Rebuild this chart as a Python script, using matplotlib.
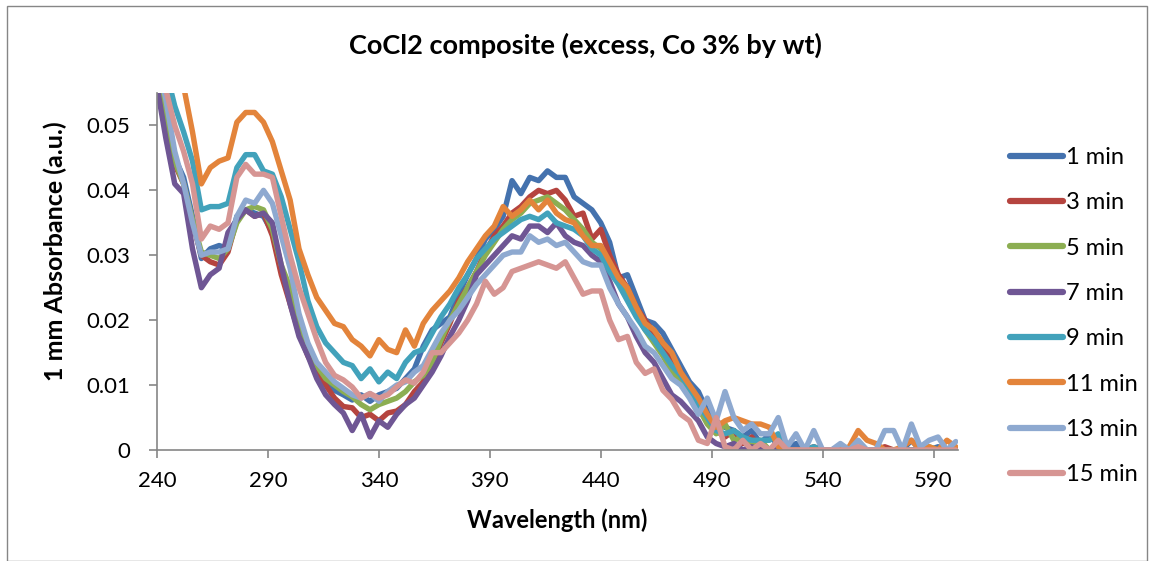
import numpy as np
import matplotlib
matplotlib.use("Agg")
import matplotlib.pyplot as plt
from matplotlib.patches import Rectangle

plt.rcParams['font.family'] = ['Lato', 'DejaVu Sans']

# wavelengths (nm), 4 nm steps
wavelength = list(range(240, 601, 4))

labels = ["1 min", "3 min", "5 min", "7 min", "9 min", "11 min", "13 min", "15 min"]
colors = ['#4472AE', '#B5443F', '#8CAE52', '#6F5694', '#42A2BB', '#E3843B', '#8EA9D0', '#D69593']

# absorbance values in milli-absorbance units (x 1e-3)
m1 = [58, 52, 45, 42, 36, 29.5, 31, 31.5, 31, 36, 37, 36.5, 36, 33.5, 28, 23, 19, 15.5, 13, 11,
      9.2, 8.5, 7.7, 8.5, 7.5, 8.5, 9, 9.5, 11, 12.5, 16, 18.5, 19.5, 20.5, 24, 27, 29.5, 32.5, 34, 36,
      41.5, 39.5, 42, 41.5, 43, 42, 42, 39, 38, 37, 35, 32, 26.5, 27, 23.5, 20, 19.5, 18, 15.5, 13,
      10.5, 9, 6, 4.5, 3.5, 3, 2, 3, 1, 2.5, 0.5, 0, 1, 0, 0, 0, 0, 0.5, 0, 0,
      0, 0, 0, 0, 0, 1.5, 0, 0, 0.5, 0, 0]
m3 = [58, 50, 44, 41, 35, 30, 29, 28.5, 30.5, 35.5, 37, 36, 36.5, 33, 27, 22.5, 18, 14.5, 12, 10,
      8, 6.7, 6.5, 5, 5.5, 4.5, 5.7, 6, 7, 9, 10.5, 13, 16.5, 19.5, 23, 25, 27.5, 30.5, 33, 34.5,
      36.5, 37.5, 39, 40, 39.5, 40, 38.5, 36, 36.5, 32.5, 34, 30, 27, 25, 22, 20, 18, 16, 14, 12,
      9.5, 7.5, 5, 3, 2, 3, 1, 2, 0.5, 0, 1, 0, 0, 0, 0.5, 0, 0, 0, 0, 0,
      0, 0, 0.5, 0, 0, 0, 0, 0, 0, 0, 0]
m5 = [58, 50, 44.5, 41, 35.5, 30.5, 30, 29.5, 31, 35, 37, 37.5, 37, 34, 28.5, 25, 19.5, 16, 13, 11,
      10, 9, 8.2, 7, 6.2, 7, 7.5, 8, 9, 10.5, 11.5, 13.5, 17, 20, 22.5, 25, 27.5, 30, 32, 34,
      35.5, 36.5, 38, 38.5, 39, 38, 37, 35.5, 34, 32, 31, 28.5, 26, 24, 21, 18.5, 16.5, 14.5, 12, 10.5,
      8.5, 6.5, 4, 2.5, 4, 1.5, 2, 0.5, 1.5, 0, 0.5, 0, 0, 0, 0, 0, 0, 0.5, 0, 0,
      0, 0, 0, 0, 0, 0, 0, 0.5, 0, 0, 0]
m7 = [56, 48, 41, 39.5, 31, 25, 27, 28, 33.5, 35.5, 37, 36, 36.5, 35, 28.5, 22.5, 17.5, 14.5, 11, 8.5,
      7, 5.7, 3, 5.5, 2, 4.5, 3.5, 5.5, 7, 8, 10, 12, 14.5, 17.5, 20, 23, 27, 28.5, 30, 31.5,
      33, 32.5, 34.5, 34.5, 33.5, 35, 33, 32, 31.5, 30, 29, 26, 22.5, 20.5, 17.5, 15, 13.5, 11, 8.5, 7.5,
      6, 4.5, 2, 1, 0.5, 1, 0, 0.5, 0, 0, 0, 0, 0, 0, 0, 0, 0, 0, 0, 0,
      0, 0, 0, 0, 0, 0, 0, 0, 0, 0, 0]
m9 = [62, 58.5, 53, 49, 44.5, 37, 37.5, 37.5, 38, 43.5, 45.5, 45.5, 43, 42.5, 39, 34, 29, 23, 19, 16.5,
      15, 13.5, 13, 11, 12.5, 10.5, 12, 11, 13.5, 15, 15.5, 18, 20.5, 22.5, 25, 27, 29.5, 31, 32.5, 33.5,
      34.5, 35.5, 36, 35.5, 36.5, 35, 34.5, 34, 33, 31, 30, 27.5, 25.5, 23, 20.5, 18.5, 17, 15, 13, 11.5,
      9.5, 7, 5, 3, 2.5, 3, 2, 1.5, 1.5, 1.5, 2.5, 0, 0, 0, 0.5, 0, 0, 0, 0, 0,
      0, 0, 0, 0, 0, 0, 0, 0, 0, 0, 0]
m11 = [75, 68, 61, 56, 49, 41, 43.5, 44.5, 45, 50.5, 52, 52, 50.5, 47.5, 43, 38.5, 31, 27, 23.5, 21.5,
       19.5, 19, 17, 16, 14.5, 17, 15.5, 15, 18.5, 16, 19.5, 21.5, 23, 24.5, 26.5, 29, 31, 33, 34.5, 37.5,
       36, 37, 38.5, 37, 38.5, 36.5, 35.5, 35, 33, 31.5, 31.5, 29, 26.5, 25, 22, 19.5, 18.5, 16.5, 15, 12,
       10, 8, 5.5, 3.5, 4.5, 5, 4.5, 4, 4, 3.5, 0.5, 0, 0, 0, 0, 0, 0, 0, 0.5, 3,
       1.5, 1, 0, 0, 0.5, 1.5, 0, 0.5, 0, 1.5, 0.5]
m13 = [60, 54, 46, 41, 35, 30, 30.5, 30.5, 31, 36, 38.5, 38, 40, 38, 33, 28, 21, 16.5, 13.5, 12,
       10.5, 9.5, 8.5, 8, 8.7, 7.5, 9, 10, 10.5, 12, 13, 15.5, 18, 20, 21.5, 23.5, 25.5, 27, 28.5, 30,
       30.5, 30.5, 33, 32, 32.5, 31.5, 32, 30.5, 29, 28.5, 28.5, 25, 22.5, 20.5, 18.5, 16, 15, 13, 11, 10,
       8, 5.5, 8, 4.5, 9, 5, 3, 4, 2.5, 2.5, 5, 0.5, 2.5, 0, 3, 0, 0, 1, 0, 1.5,
       0, 0, 3, 3, 0, 4, 0.5, 1.5, 2, 0, 1.3]
m15 = [60, 55.5, 50, 46, 41, 32.5, 34.5, 34, 35, 42, 44, 42.5, 42.5, 42, 36, 30, 25, 21, 17, 13.5,
       11.5, 10.8, 9.7, 8, 8.7, 8, 8.5, 9.7, 10.8, 10.3, 12, 15, 15, 16.5, 18, 20, 22.5, 26, 24, 25,
       27.5, 28, 28.5, 29, 28.5, 28, 29, 26.5, 24, 24.5, 24.5, 20, 17, 17.5, 13.5, 11.8, 12.5, 9.2, 7.8, 5.5,
       4.5, 1.5, 1, 5, 0.5, 0, 1.5, 0, 1, 0, 1.5, 0, 0, 0, 0, 0, 0, 0, 0, 0.5,
       0, 0, 0, 0, 0, 0, 0, 0, 0, 0, 0]

series = [m1, m3, m5, m7, m9, m11, m13, m15]

W, H = 1151, 561
fig = plt.figure(figsize=(W / 100, H / 100), dpi=100)
fig.patches.append(Rectangle((7 / W, 0), (1147 - 7) / W, (H - 6) / H, transform=fig.transFigure,
                             fill=False, edgecolor='#868686', lw=1.0))

ax = fig.add_axes([157 / W, (H - 450) / H, (958 - 157) / W, (450 - 93) / H])
wl = np.array(wavelength)
for vals, lab, col in zip(series, labels, colors):
    ax.plot(wl, np.array(vals) / 1000.0, color=col, lw=3.9, label=lab,
            solid_joinstyle='round', solid_capstyle='round')

ax.set_xlim(240, 601)
ax.set_ylim(0, 0.055)
ax.set_xticks(range(240, 600, 50))
ax.set_yticks([0, 0.01, 0.02, 0.03, 0.04, 0.05])
ax.set_yticklabels(['0', '0.01', '0.02', '0.03', '0.04', '0.05'])
for s in ['top', 'right']:
    ax.spines[s].set_visible(False)
for s in ['left', 'bottom']:
    ax.spines[s].set_color('#868686')
    ax.spines[s].set_linewidth(1.2)
ax.tick_params(axis='both', direction='out', length=6, width=1.2, color='#868686',
               labelsize=16, labelcolor='black')
ax.tick_params(axis='y', pad=13)
ax.tick_params(axis='x', pad=9)

ax.set_xlabel('Wavelength (nm)', fontsize=17, fontweight='bold')
ax.xaxis.set_label_coords(0.5, -0.163)
ax.set_ylabel('1 mm Absorbance (a.u.)', fontsize=18, fontweight='bold')
ax.yaxis.set_label_coords(-0.112, 0.556)
fig.text(585 / W, 1 - 45 / H, 'CoCl2 composite (excess, Co 3% by wt)', ha='center', va='center',
         fontsize=19.5, fontweight='bold')

leg = fig.legend(loc='upper left', bbox_to_anchor=(1010 / W, 1 - 147 / H), frameon=False,
                 fontsize=17, handlelength=2.25, handletextpad=0.12, labelspacing=1.03,
                 borderaxespad=0, borderpad=0)
for line in leg.get_lines():
    line.set_linewidth(4.5)

fig.savefig('out.png', dpi=100)
